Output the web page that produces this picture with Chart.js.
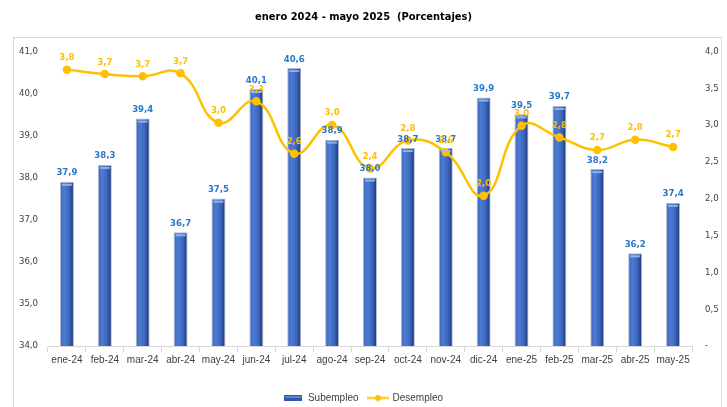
<!DOCTYPE html>
<html lang="es">
<head>
<meta charset="UTF-8">
<title>Subempleo y Desempleo</title>
<script src="https://cdn.jsdelivr.net/npm/chart.js@4/dist/chart.umd.min.js"></script>
<style>
    html, body { margin: 0; padding: 0; background: #fff; }
    #wrap { width: 727px; height: 407px; position: relative; }
</style>
</head>
<body>
<div id="wrap"><canvas id="grafico"></canvas></div>
<script>
    // datos
    var meses = ['ene-24', 'feb-24', 'mar-24', 'abr-24', 'may-24', 'jun-24', 'jul-24', 'ago-24', 'sep-24',
        'oct-24', 'nov-24', 'dic-24', 'ene-25', 'feb-25', 'mar-25', 'abr-25', 'may-25'];
    var subempleo = [37.9, 38.3, 39.4, 36.7, 37.5, 40.1, 40.6, 38.9, 38.0, 38.7, 38.7, 39.9, 39.5, 39.7, 38.2, 36.2, 37.4];
    var desempleo = [3.75, 3.69, 3.66, 3.70, 3.03, 3.32, 2.61, 3.00, 2.41, 2.79, 2.63, 2.04, 2.99, 2.83, 2.66, 2.80, 2.70];
    var titulo = 'enero 2024 - mayo 2025  (Porcentajes)';

    var NARROW = "'Liberation Sans Narrow', 'DejaVu Sans Condensed', 'Liberation Sans', sans-serif";
    var SANS = "'Liberation Sans', Arial, sans-serif";
    var AZUL_TXT = '#2a78cc';
    var AMARILLO = '#ffc000';

    function coma(v) { return (Math.round(v * 10) / 10).toFixed(1).replace('.', ','); }

    // muestras de la leyenda
    function muestraBarra() {
        var c = document.createElement('canvas');
        c.width = 18; c.height = 6;
        var g = c.getContext('2d');
        g.fillStyle = '#2f56a8';
        g.fillRect(0, 0, 18, 6);
        g.fillStyle = '#5b86d8';
        g.fillRect(1, 1, 16, 2);
        return c;
    }
    function muestraLinea() {
        var c = document.createElement('canvas');
        c.width = 22; c.height = 7;
        var g = c.getContext('2d');
        g.strokeStyle = AMARILLO; g.lineWidth = 2;
        g.beginPath(); g.moveTo(0, 3.5); g.lineTo(22, 3.5); g.stroke();
        g.fillStyle = AMARILLO;
        g.beginPath(); g.arc(11, 3.5, 3, 0, Math.PI * 2); g.fill();
        return c;
    }

    // marco gris alrededor del grafico
    var marco = {
        id: 'marco',
        beforeDraw: function(chart) {
            var c = chart.ctx;
            c.save();
            c.fillStyle = '#fff';
            c.fillRect(0, 0, chart.width, chart.height);
            c.strokeStyle = '#d9d9d9';
            c.lineWidth = 1;
            c.strokeRect(13.5, 37.5, 708, 400);
            c.restore();
        }
    };

    // etiquetas de datos
    var etiquetas = {
        id: 'etiquetas',
        afterDatasetsDraw: function(chart) {
            var c = chart.ctx;
            c.save();
            c.textAlign = 'center';
            c.textBaseline = 'middle';
            // brillo superior de las barras
            chart.getDatasetMeta(0).data.forEach(function(bar) {
                c.fillStyle = 'rgba(150,185,240,0.9)';
                c.fillRect(bar.x - bar.width / 2 + 2, bar.y + 2, bar.width - 4, 2);
            });
            c.font = 'bold 9.5px ' + NARROW;
            c.fillStyle = AZUL_TXT;
            chart.getDatasetMeta(0).data.forEach(function(bar, i) {
                c.fillText(coma(subempleo[i]), bar.x, bar.y - 9);
            });
            c.fillStyle = AMARILLO;
            chart.getDatasetMeta(1).data.forEach(function(pt, i) {
                c.fillText(coma(desempleo[i]), pt.x, pt.y - 12);
            });
            c.restore();
        }
    };

    var ctx = document.getElementById('grafico');
    var grafico = new Chart(ctx, {
        type: 'bar',
        data: {
            labels: meses,
            datasets: [{
                type: 'bar',
                label: 'Subempleo',
                data: subempleo,
                yAxisID: 'y',
                order: 2,
                barPercentage: 0.37,
                categoryPercentage: 1,
                borderColor: 'rgba(170,180,205,0.9)',
                borderWidth: 1,
                backgroundColor: function(c) {
                    var ch = c.chart;
                    if (!ch.scales || !ch.scales.x) return '#4472c4';
                    var x = ch.scales.x.getPixelForValue(c.dataIndex);
                    if (!isFinite(x)) return '#4472c4';
                    var g = ch.ctx.createLinearGradient(x - 7, 0, x + 7, 0);
                    g.addColorStop(0, '#3a63b8');
                    g.addColorStop(0.3, '#4d7bd3');
                    g.addColorStop(0.65, '#3d67bf');
                    g.addColorStop(1, '#1b3270');
                    return g;
                }
            }, {
                type: 'line',
                label: 'Desempleo',
                data: desempleo,
                yAxisID: 'y2',
                order: 1,
                borderColor: AMARILLO,
                backgroundColor: AMARILLO,
                borderWidth: 2.5,
                tension: 0.45,
                pointRadius: 3,
                pointHoverRadius: 3
            }]
        },
        options: {
            responsive: true,
            maintainAspectRatio: false,
            animation: false,
            layout: { padding: { left: 0, right: 0, top: 0, bottom: -6 } },
            plugins: {
                title: {
                    display: true,
                    text: titulo,
                    color: '#000',
                    font: { family: NARROW, size: 11, weight: 'bold' },
                    padding: { top: 11, bottom: 27 }
                },
                legend: {
                    position: 'bottom',
                    labels: {
                        usePointStyle: true,
                        pointStyleWidth: 19,
                        padding: 10,
                        color: '#404040',
                        font: { family: SANS, size: 10 },
                        generateLabels: function(chart) {
                            var items = Chart.defaults.plugins.legend.labels.generateLabels(chart);
                            items.sort(function(a, b) { return a.datasetIndex - b.datasetIndex; });
                            items.forEach(function(it) {
                                it.pointStyle = it.datasetIndex === 0 ? muestraBarra() : muestraLinea();
                            });
                            return items;
                        }
                    }
                },
                tooltip: { enabled: false }
            },
            scales: {
                x: {
                    offset: true,
                    grid: { display: true, drawOnChartArea: false, offset: true, tickLength: 6, color: '#d9d9d9' },
                    border: { display: true, color: '#d9d9d9' },
                    ticks: { color: '#404040', padding: 2, maxRotation: 0, autoSkip: false, font: { family: SANS, size: 10 } },
                    afterFit: function(s) { s.height = 37; }
                },
                y: {
                    position: 'left',
                    min: 34, max: 41,
                    grid: { display: false, drawTicks: false },
                    border: { display: false },
                    ticks: { stepSize: 1, padding: 10, color: '#404040', font: { family: NARROW, size: 9.5 }, callback: function(v) { return coma(v); } },
                    afterFit: function(s) { s.width = 48; }
                },
                y2: {
                    position: 'right',
                    min: 0, max: 4,
                    grid: { display: false, drawTicks: false },
                    border: { display: false },
                    ticks: { stepSize: 0.5, padding: 13, color: '#404040', font: { family: NARROW, size: 9.5 }, callback: function(v) { return v === 0 ? '-' : coma(v); } },
                    afterFit: function(s) { s.width = 35; }
                }
            }
        },
        plugins: [marco, etiquetas]
    });
</script>
</body>
</html>
